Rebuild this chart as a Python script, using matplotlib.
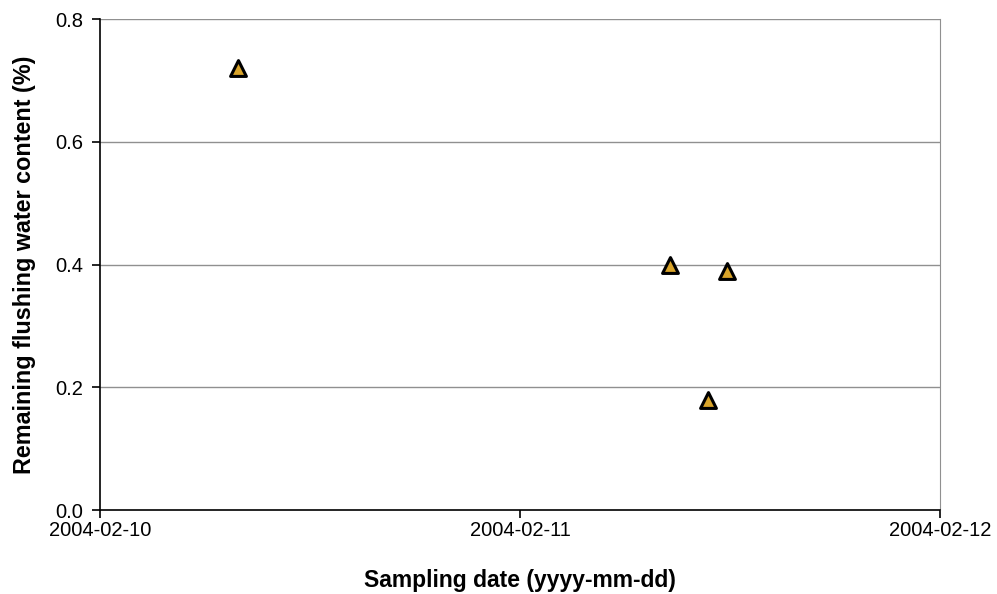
import numpy as np
import matplotlib
matplotlib.use('Agg')
import matplotlib.pyplot as plt
import matplotlib.dates as mdates
from datetime import datetime

# sampling times and remaining flushing water content
sample_times = [datetime(2004, 2, 10, 7, 53),
                datetime(2004, 2, 11, 8, 34),
                datetime(2004, 2, 11, 10, 45),
                datetime(2004, 2, 11, 11, 50)]
water_content = [0.72, 0.40, 0.18, 0.39]

x_ticks = [datetime(2004, 2, 10), datetime(2004, 2, 11), datetime(2004, 2, 12)]
y_ticks = [0.0, 0.2, 0.4, 0.6, 0.8]

plt.rcParams['font.family'] = ['Liberation Sans', 'DejaVu Sans']

fig = plt.figure(figsize=(9.97, 5.94), dpi=100)
ax = fig.add_axes([0.1003, 0.1414, 0.8425, 0.8266])

for y in y_ticks[1:]:
    ax.axhline(y, color='#909090', lw=1, zorder=1)

ax.scatter(sample_times, water_content, marker='^', s=130, c='#D9A42A',
           edgecolors='black', linewidths=2.2, zorder=3)

ax.set_xlim(x_ticks[0], x_ticks[-1])
ax.set_ylim(0, 0.8)
ax.set_xticks(x_ticks)
ax.xaxis.set_major_formatter(mdates.DateFormatter('%Y-%m-%d'))
ax.set_yticks(y_ticks)
ax.set_yticklabels([f'{v:.1f}' for v in y_ticks])

ax.spines['top'].set_visible(False)
ax.spines['right'].set_color('#909090')
ax.spines['left'].set_linewidth(1.2)
ax.spines['bottom'].set_linewidth(1.2)
ax.tick_params(axis='both', labelsize=14.5, length=6, width=1.2, direction='out', pad=6)
ax.tick_params(axis='x', pad=2)

ax.set_xlabel('Sampling date (yyyy-mm-dd)', fontsize=16.5, fontweight='bold')
ax.set_ylabel('Remaining flushing water content (%)', fontsize=16.8, fontweight='bold')
ax.xaxis.set_label_coords(0.5, -0.12)
ax.yaxis.set_label_coords(-0.076, 0.5)

fig.savefig('out.png', dpi=100)
